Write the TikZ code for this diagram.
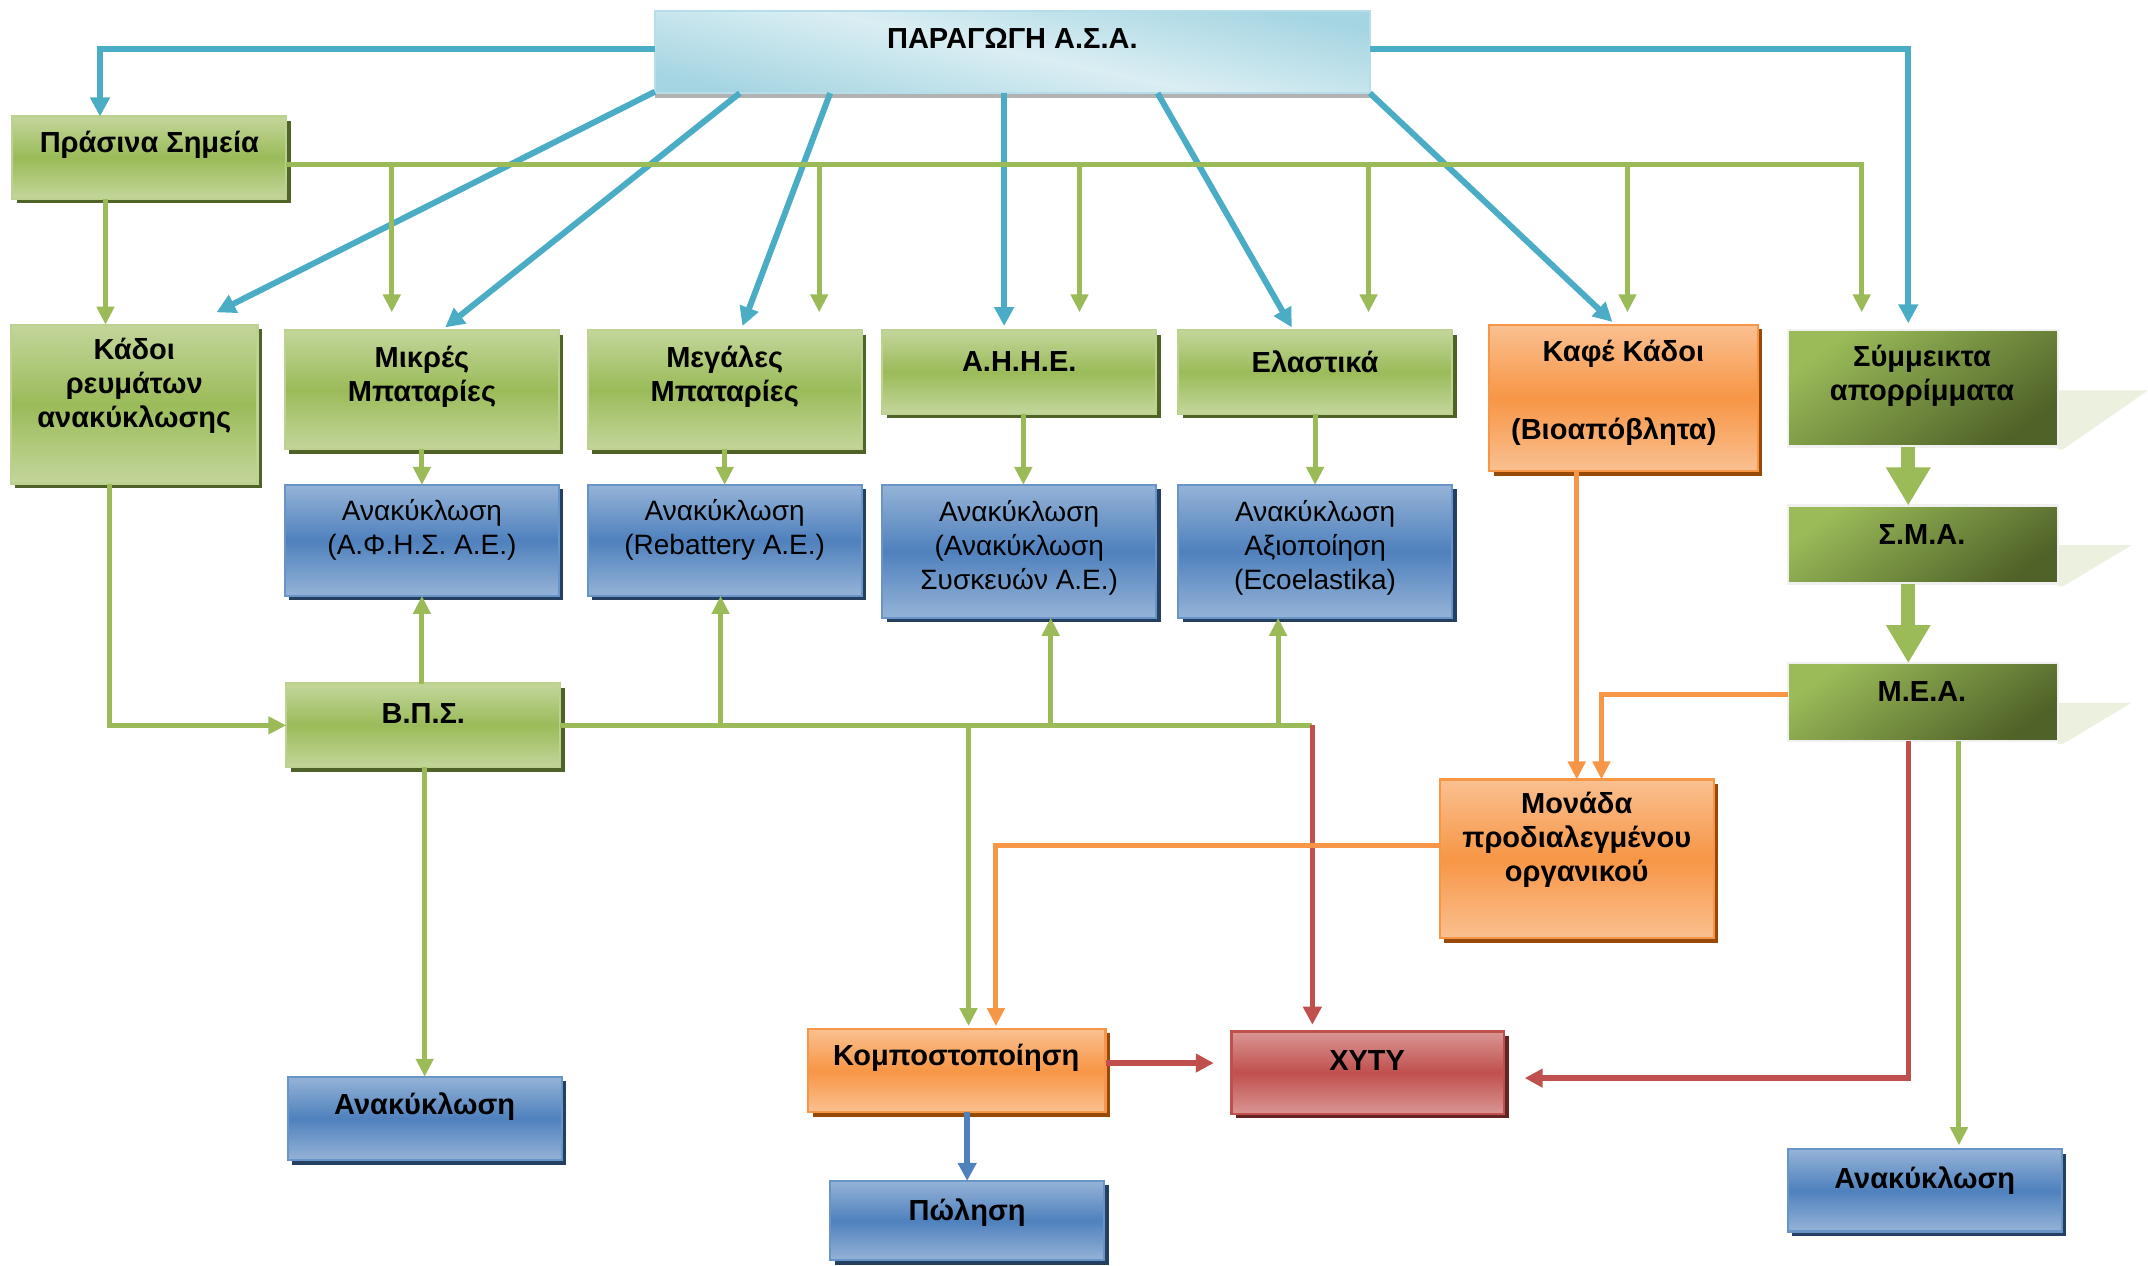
\documentclass[tikz,border=0pt]{standalone}
\usepackage{fontspec}
\setmainfont{Liberation Sans}
\usetikzlibrary{arrows.meta,shadows,calc}

% palette
\definecolor{gmid}{HTML}{9BBB59}
\definecolor{glight}{HTML}{C3D69B}
\definecolor{gdark}{HTML}{4F6228}
\definecolor{gpale}{HTML}{EBF1DE}
\definecolor{bmid}{HTML}{4F81BD}
\definecolor{blight}{HTML}{95B3D7}
\definecolor{bdark}{HTML}{243F60}
\definecolor{omid}{HTML}{F79646}
\definecolor{olight}{HTML}{FAC090}
\definecolor{odark}{HTML}{984807}
\definecolor{rmid}{HTML}{C0504D}
\definecolor{rlight}{HTML}{D99694}
\definecolor{rdark}{HTML}{632523}
\definecolor{tealc}{HTML}{4BACC6}
\definecolor{tlight}{HTML}{DAEEF3}
\definecolor{tmid}{HTML}{A5D5E2}

\def\unitpt{0.685}
% box from corner (x1,y1) to (x2,y2)
\newcommand\boxat[6]{%
  \pgfmathsetmacro\bw{(#5-#3)*\unitpt}%
  \pgfmathsetmacro\bh{(#6-#4)*\unitpt}%
  \node[#2, minimum width=\bw pt, minimum height=\bh pt] (#1) at ({(#3+#5)/2},{(#4+#6)/2}) {};}

\tikzset{
  basebox/.style={inner sep=0pt, outer sep=0pt, line width=1.1pt},
  greenbox/.style={basebox, draw=glight!85!gmid, top color=glight, bottom color=glight, middle color=gmid,
    general shadow={fill=gdark, shadow xshift=2.2pt, shadow yshift=-2.2pt}},
  bluebox/.style={basebox, draw=bmid!85!white, top color=blight, bottom color=blight, middle color=bmid,
    general shadow={fill=bdark, shadow xshift=2.2pt, shadow yshift=-2.2pt}},
  orangebox/.style={basebox, draw=omid, top color=olight, bottom color=olight, middle color=omid,
    general shadow={fill=odark, shadow xshift=2.2pt, shadow yshift=-2.2pt}},
  redbox/.style={basebox, draw=rmid, top color=rlight, bottom color=rlight, middle color=rmid,
    general shadow={fill=rdark, shadow xshift=2.2pt, shadow yshift=-2.2pt}},
  darkbox/.style={basebox, draw=black!6, top color=gmid, bottom color=gdark, shading angle=35},
  headbox/.style={basebox, draw=tmid!80!white, top color=tmid, bottom color=tmid, middle color=tlight, shading angle=-12,
    general shadow={fill=black!30, shadow xshift=0pt, shadow yshift=-2.5pt}},
  btxt/.style={font=\bfseries\fontsize{14.5}{17}\selectfont, align=center, inner sep=0pt},
  rtxt/.style={font=\fontsize{14}{17}\selectfont, align=center, inner sep=0pt},
  tarrow/.style={draw=tealc, line width=3pt, -{Triangle[length=9.5pt,width=9.5pt]}},
  garrow/.style={draw=gmid, line width=2.5pt, -{Triangle[length=9pt,width=8.5pt]}},
  gline/.style={draw=gmid, line width=2.5pt},
  oarrow/.style={draw=omid, line width=2.5pt, -{Triangle[length=9pt,width=8.5pt]}},
  rarrow/.style={draw=rmid, line width=2.7pt, -{Triangle[length=9pt,width=9pt]}},
  barrow/.style={draw=bmid, line width=2.7pt, -{Triangle[length=9pt,width=9pt]}},
  bigarrow/.style={draw=gmid, line width=7pt, -{Triangle[length=19pt,width=21pt]}},
  persp/.style={fill=gpale, draw=none},
}

\begin{document}
\begin{tikzpicture}[x=0.685pt, y=-0.685pt]
\useasboundingbox (0,0) rectangle (1568,924);

% ---------- perspective shadows of the mixed-waste chain ----------
\fill[persp] (1502,285) -- (1568,285) -- (1506,328) -- (1502,328) -- cycle;
\fill[persp] (1502,398) -- (1556,398) -- (1506,428) -- (1502,428) -- cycle;
\fill[persp] (1502,513) -- (1556,513) -- (1506,543) -- (1502,543) -- cycle;

% ---------- boxes ----------
\boxat{hdr}{headbox}{478}{8}{1000}{68}
\boxat{ps}{greenbox}{9}{85}{209}{145}
\boxat{kd}{greenbox}{8}{237}{188}{353}
\boxat{mb}{greenbox}{208}{241}{408}{328}
\boxat{mg}{greenbox}{429}{241}{629}{328}
\boxat{ahe}{greenbox}{644}{241}{844}{302}
\boxat{el}{greenbox}{860}{241}{1060}{302}
\boxat{kk}{orangebox}{1087}{237}{1283}{344}
\boxat{sm}{darkbox}{1305}{241}{1502}{326}
\boxat{sma}{darkbox}{1305}{369}{1502}{426}
\boxat{mea}{darkbox}{1305}{484}{1502}{541}
\boxat{r1}{bluebox}{208}{354}{408}{435}
\boxat{r2}{bluebox}{429}{354}{629}{435}
\boxat{r3}{bluebox}{644}{354}{844}{451}
\boxat{r4}{bluebox}{860}{354}{1060}{451}
\boxat{vps}{greenbox}{209}{499}{409}{560}
\boxat{mon}{orangebox}{1051}{569}{1251}{685}
\boxat{anl}{bluebox}{210}{786}{410}{847}
\boxat{komp}{orangebox}{590}{751}{807}{812}
\boxat{xyty}{redbox}{899}{753}{1098}{813}
\boxat{pol}{bluebox}{606}{862}{806}{920}
\boxat{anr}{bluebox}{1305}{839}{1505}{899}

% ---------- labels ----------
\node[btxt] (t-hdr) at (739,28) {ΠΑΡΑΓΩΓΗ Α.Σ.Α.};
\node[btxt] (t-ps) at (109,106) {Πράσινα Σημεία};
\node[btxt] (t-kd) at (98,282) {Κάδοι\\ρευμάτων\\ανακύκλωσης};
\node[btxt] (t-mb) at (308,275) {Μικρές\\Μπαταρίες};
\node[btxt] (t-mg) at (529,275) {Μεγάλες\\Μπαταρίες};
\node[btxt] (t-ahe) at (744,264) {Α.Η.Η.Ε.};
\node[btxt] (t-el) at (960,264) {Ελαστικά};
\node[btxt] (t-kk1) at (1185,258) {Καφέ Κάδοι};
\node[btxt] (t-kk2) at (1178,315) {(Βιοαπόβλητα)};
\node[btxt] (t-sm) at (1403,274) {Σύμμεικτα\\απορρίμματα};
\node[btxt] (t-sma) at (1403,390) {Σ.Μ.Α.};
\node[btxt] (t-mea) at (1403,505) {Μ.Ε.Α.};
\node[rtxt] (t-r1) at (308,387) {Ανακύκλωση\\(Α.Φ.Η.Σ. Α.Ε.)};
\node[rtxt] (t-r2) at (529,387) {Ανακύκλωση\\(Rebattery Α.Ε.)};
\node[rtxt] (t-r3) at (744,400) {Ανακύκλωση\\(Ανακύκλωση\\Συσκευών Α.Ε.)};
\node[rtxt] (t-r4) at (960,400) {Ανακύκλωση\\Αξιοποίηση\\(Ecoelastika)};
\node[btxt] (t-vps) at (309,521) {Β.Π.Σ.};
\node[btxt] (t-mon) at (1151,613) {Μονάδα\\προδιαλεγμένου\\οργανικού};
\node[btxt] (t-anl) at (310,808) {Ανακύκλωση};
\node[btxt] (t-komp) at (698,772) {Κομποστοποίηση};
\node[btxt] (t-xyty) at (998,774) {ΧΥΤΥ};
\node[btxt] (t-pol) at (706,885) {Πώληση};
\node[btxt] (t-anr) at (1405,862) {Ανακύκλωση};

% ---------- distribution from waste production ----------
\coordinate (hps) at ($(ps.north)+(-36,0)$);
\coordinate (hsm) at ($(sm.north)+(-10.5,-5)$);
\draw[tarrow] ($(hdr.west)+(0,-2)$) -| (hps);
\draw[tarrow] ($(hdr.east)+(0,-2)$) -| (hsm);
\draw[tarrow] ($(hdr.south west)+(0,-1)$) -- ($(kd.north east)+(-30,-9)$);
\draw[tarrow] ($(hdr.south west)+(62,0)$) -- ($(mb.north)+(17,-2)$);
\draw[tarrow] ($(hdr.south west)+(128,0)$) -- ($(mg.north)+(13,-3)$);
\draw[tarrow] ($(hdr.south west)+(255,0)$) -- ($(ahe.north)+(-11,-3)$);
\draw[tarrow] ($(hdr.south west)+(367,0)$) -- ($(el.north)+(-17,-2)$);
\draw[tarrow] (hdr.south east) -- ($(kk.north)+(-8,-2)$);

% ---------- green points feed ----------
\coordinate (gbus) at ($(ps.east)+(0,5)$);
\coordinate (gmb) at ($(mb.north)+(-22,-13)$);
\coordinate (gmg) at ($(mg.north)+(69,-13)$);
\coordinate (gahe) at ($(ahe.north)+(44,-13)$);
\coordinate (gel) at ($(el.north)+(39,-13)$);
\coordinate (gkk) at ($(kk.north)+(3,-9)$);
\coordinate (gsm) at ($(sm.north)+(-44.5,-13)$);
\draw[garrow] (gbus) -| (gsm);
\foreach \g in {gmb,gmg,gahe,gel,gkk} \draw[garrow] (gbus -| \g) -- (\g);
\draw[garrow] ($(ps.south)+(-32,0)$) -- ($(kd.north)+(-21,0)$);

% ---------- to recycling companies ----------
\draw[garrow] (mb.south) -- (r1.north);
\draw[garrow] (mg.south) -- (r2.north);
\draw[garrow] ($(ahe.south)+(3,0)$) -- ($(r3.north)+(3,0)$);
\draw[garrow] (el.south) -- (r4.north);

% ---------- recycling bins through the sorting centre ----------
\draw[garrow] ($(kd.south)+(-18,0)$) |- (vps.west);
\draw[garrow] (r1.south |- vps.north) -- (r1.south);
\draw[garrow] (anl.north |- vps.south) -- (anl.north);
\coordinate (xin) at ($(xyty.north)+(-40.5,-5)$);
\coordinate (kin) at ($(komp.north)+(8.5,-2)$);
\coordinate (u2) at ($(r2.south)+(-3,0)$);
\coordinate (u3) at ($(r3.south)+(23,0)$);
\coordinate (u4) at ($(r4.south)+(-27,0)$);
\draw[gline] (vps.east) -- (vps.east -| xin);
\foreach \u in {u2,u3,u4} \draw[garrow] (vps.east -| \u) -- (\u);
\draw[garrow] (vps.east -| kin) -- (kin);
\draw[rarrow] (vps.east -| xin) -- (xin);

% ---------- organic stream ----------
\draw[oarrow] (mon.north |- kk.south) -- (mon.north);
\draw[oarrow] ($(mea.west)+(0,-5.5)$) -| ($(mon.north)+(18,0)$);
\draw[oarrow] ($(mon.west)+(0,-10)$) -| ($(komp.north)+(28.5,-2)$);

% ---------- composting outputs ----------
\coordinate (xl) at ($(xyty.west)+(-13,0)$);
\coordinate (ks) at ($(komp.east)+(0,-5.5)$);
\draw[rarrow] (ks) -- (ks -| xl);
\draw[barrow] (pol.north |- komp.south) -- (pol.north);

% ---------- mixed waste chain ----------
\draw[bigarrow] ($(sm.south)+(-10.5,0)$) -- ($(sma.north)+(-10.5,0)$);
\draw[bigarrow] ($(sma.south)+(-10.5,0)$) -- ($(mea.north)+(-10.5,0)$);
\draw[rarrow] ($(mea.south)+(-10.5,0)$) |- ($(xyty.east)+(15,4)$);
\draw[garrow] ($(mea.south)+(26.5,0)$) -- ($(anr.north)+(25,-3)$);
\end{tikzpicture}
\end{document}
